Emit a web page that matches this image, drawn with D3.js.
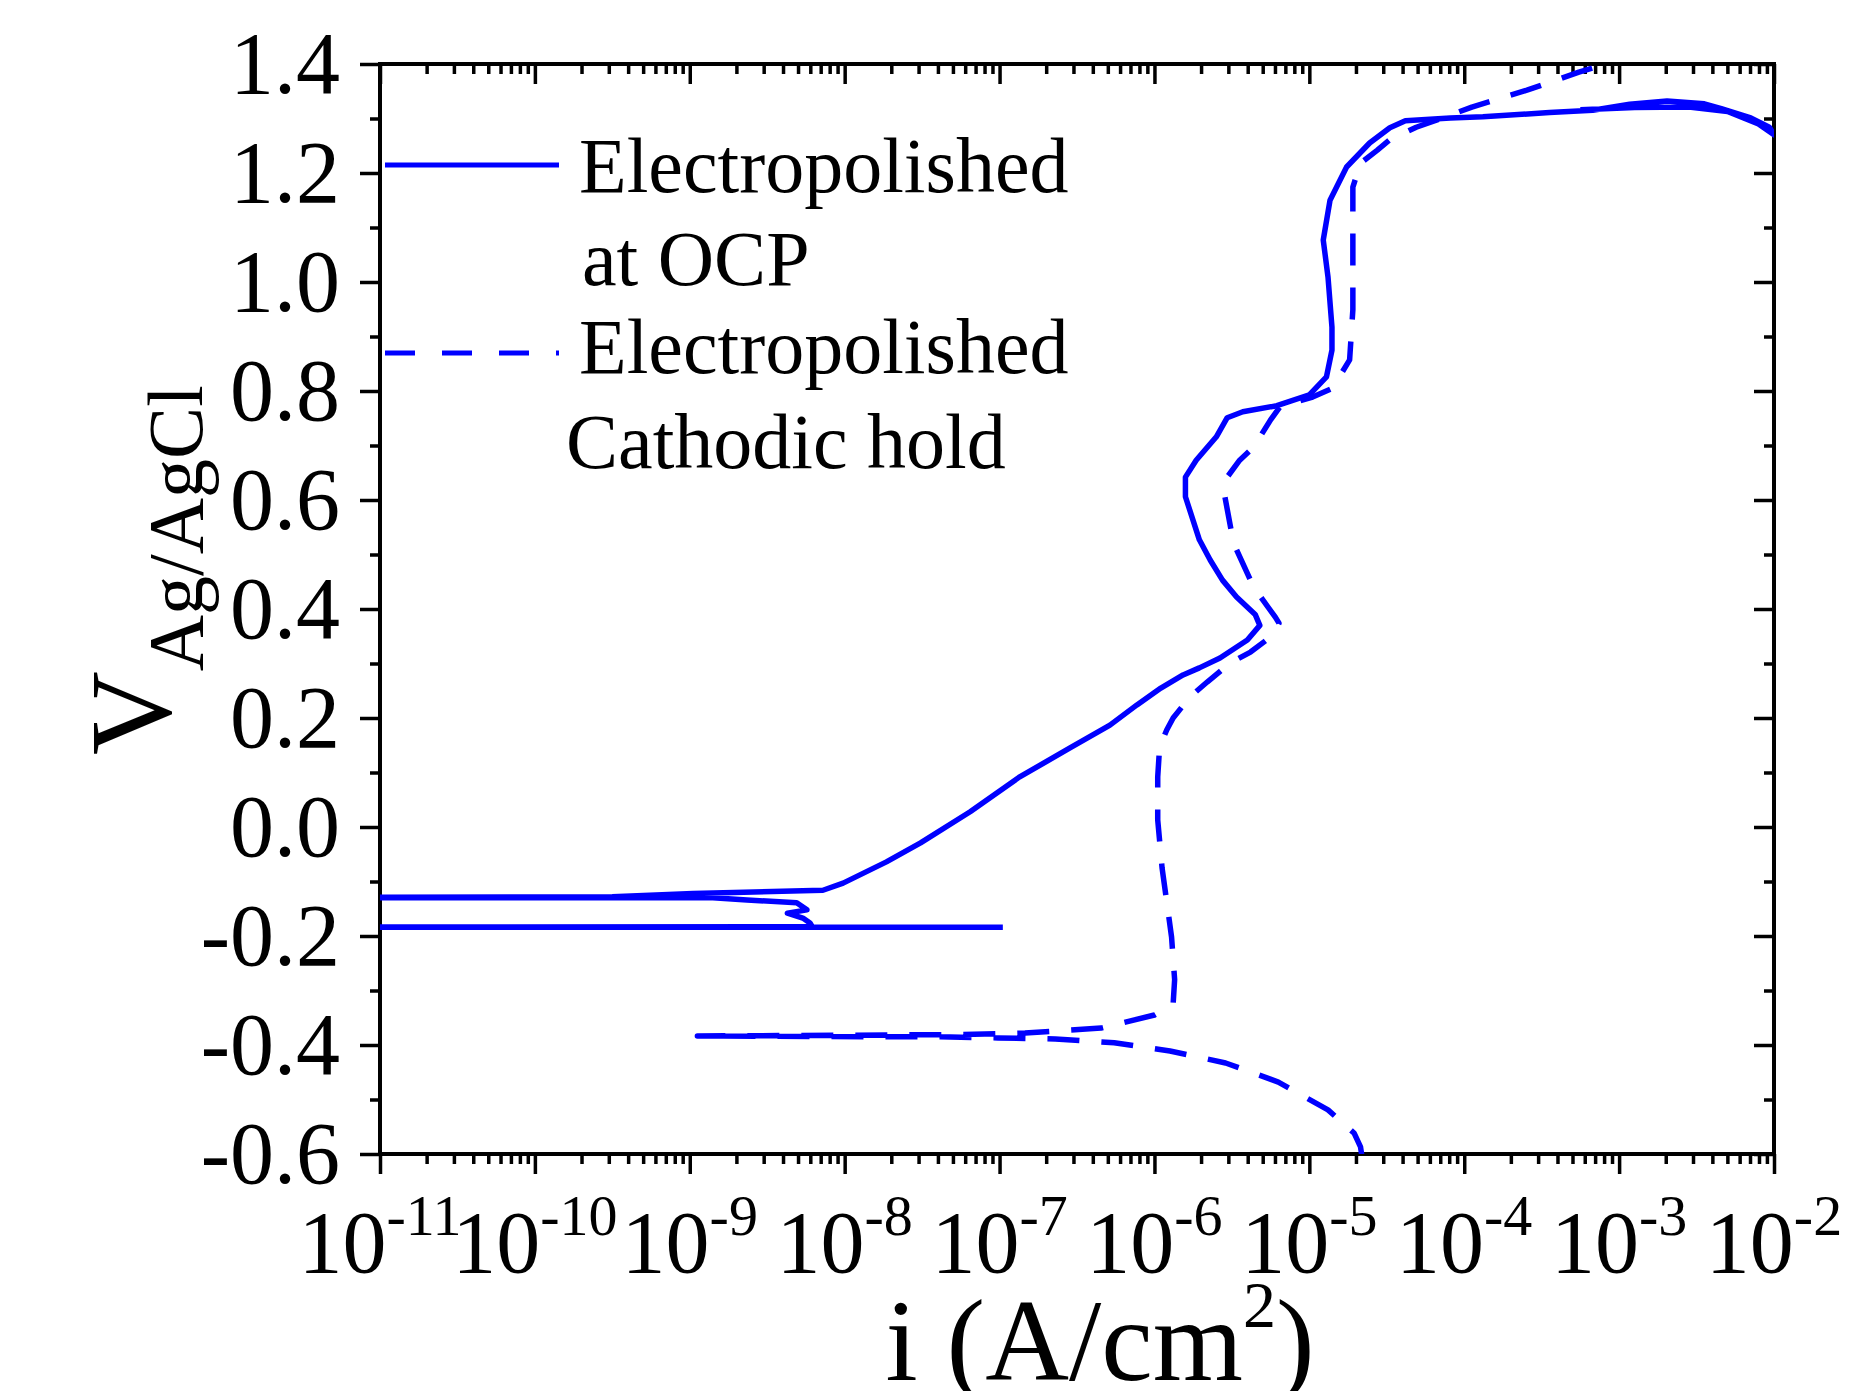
<!DOCTYPE html>
<html>
<head>
<meta charset="utf-8">
<script src="https://cdn.jsdelivr.net/npm/d3@7"></script>
<style>
  body { margin: 0; background: #fff; }
  svg { display: block; }
</style>
</head>
<body>
<div id="chart"></div>
<script>
// Electropolished at OCP (solid) - current density A/cm2, potential V vs Ag/AgCl
const ocpCurrent = [
  1.05e-7, 1e-13, 6.17e-9, 5.97e-9, 5.37e-9, 4.27e-9, 5.71e-9, 4.90e-9, 2.34e-9, 1.41e-9,
  1e-13, 3.16e-10, 1.05e-9, 7.24e-9, 9.77e-9, 1.86e-8, 3.09e-8, 6.46e-8, 1.35e-7, 2.85e-7,
  5.16e-7, 7.71e-7, 1.10e-6, 1.53e-6, 1.95e-6, 2.65e-6, 3.98e-6, 4.79e-6, 4.47e-6, 3.39e-6,
  2.75e-6, 2.29e-6, 1.95e-6, 1.585e-6, 1.585e-6, 1.86e-6, 2.51e-6, 2.95e-6, 3.72e-6, 6.17e-6,
  1.0e-5, 1.29e-5, 1.40e-5, 1.40e-5, 1.32e-5, 1.23e-5, 1.36e-5, 1.74e-5, 2.45e-5, 3.31e-5,
  4.17e-5, 8.13e-5, 1.32e-4, 3.55e-4, 6.76e-4, 1.17e-3, 2.04e-3, 3.55e-3, 4.57e-3, 7.08e-3,
  9.33e-3, 1.0e-2, 7.94e-3, 5.01e-3, 2.82e-3, 1.26e-3, 5.62e-4
];
const ocpPotential = [
  -0.184, -0.184, -0.183, -0.176, -0.167, -0.158, -0.152, -0.139, -0.134, -0.130,
  -0.130, -0.128, -0.122, -0.116, -0.103, -0.064, -0.029, 0.028, 0.092, 0.145,
  0.187, 0.224, 0.255, 0.279, 0.292, 0.310, 0.343, 0.370, 0.390, 0.422,
  0.453, 0.490, 0.527, 0.606, 0.642, 0.673, 0.716, 0.751, 0.762, 0.773,
  0.793, 0.826, 0.875, 0.917, 1.009, 1.077, 1.150, 1.211, 1.255, 1.283,
  1.296, 1.301, 1.303, 1.311, 1.315, 1.326, 1.332, 1.327, 1.318, 1.301,
  1.284, 1.270, 1.290, 1.313, 1.321, 1.320, 1.316
];

// Electropolished, cathodic hold (dashed)
const holdCurrent = [
  2.2e-5, 2.14e-5, 1.95e-5, 1.32e-5, 6.31e-6, 2.88e-6, 1.26e-6, 5.50e-7, 2.29e-7, 9.77e-8,
  4.12e-8, 1.86e-8, 1.12e-9, 1.0e-8, 5.01e-8, 1.46e-7, 4.52e-7, 1.0e-6, 1.32e-6, 1.35e-6,
  1.29e-6, 1.12e-6, 1.05e-6, 1.05e-6, 1.08e-6, 1.20e-6, 1.32e-6, 1.70e-6, 2.19e-6, 3.09e-6,
  4.17e-6, 5.82e-6, 6.37e-6, 6.03e-6, 4.37e-6, 3.24e-6, 2.85e-6, 2.95e-6, 3.55e-6, 4.37e-6,
  5.62e-6, 6.46e-6, 1.05e-5, 1.41e-5, 1.82e-5, 1.91e-5, 1.91e-5, 1.91e-5, 2.14e-5, 2.75e-5,
  3.31e-5, 4.90e-5, 6.61e-5, 1.12e-4, 2.54e-4, 5.50e-4, 8.13e-4, 1.0e-3
];
const holdPotential = [
  -0.610, -0.587, -0.562, -0.519, -0.468, -0.433, -0.411, -0.396, -0.389, -0.387,
  -0.385, -0.385, -0.3835, -0.382, -0.381, -0.378, -0.369, -0.345, -0.325, -0.28,
  -0.202, -0.075, 0.013, 0.092, 0.147, 0.178, 0.200, 0.239, 0.266, 0.301,
  0.321, 0.352, 0.374, 0.385, 0.440, 0.521, 0.606, 0.642, 0.673, 0.697,
  0.747, 0.771, 0.789, 0.805, 0.857, 0.949, 1.071, 1.174, 1.218, 1.242,
  1.261, 1.284, 1.297, 1.321, 1.352, 1.385, 1.400, 1.410
];

const yTickValues = [-0.6, -0.4, -0.2, 0.0, 0.2, 0.4, 0.6, 0.8, 1.0, 1.2, 1.4];
const xDecades = [-11, -10, -9, -8, -7, -6, -5, -4, -3, -2];
const legendLines = [["Electropolished", "at OCP"], ["Electropolished", "Cathodic hold"]];

const width = 1875;
const height = 1391;
const plot = { left: 380, right: 1774, top: 64, bottom: 1154 };
const blue = '#0000ff';
const serif = '"Liberation Serif", "Times New Roman", serif';

const x = d3.scaleLog()
  .domain([1e-11, 1e-2])
  .range([plot.left, plot.right]);

const y = d3.scaleLinear()
  .domain([-0.6, 1.4])
  .range([plot.bottom, plot.top]);

const svg = d3.select('#chart')
  .append('svg')
  .attr('width', width)
  .attr('height', height)
  .style('font-family', serif);

svg.append('defs').append('clipPath')
  .attr('id', 'plot-clip')
  .append('rect')
  .attr('x', plot.left)
  .attr('y', plot.top)
  .attr('width', plot.right - plot.left)
  .attr('height', plot.bottom - plot.top);

// tick positions
const majorX = xDecades.map(d => Math.pow(10, d));
const minorX = [];
xDecades.slice(0, -1).forEach(d => {
  for (let m = 2; m <= 9; m++) minorX.push(m * Math.pow(10, d));
});
const minorY = d3.range(-0.5, 1.4, 0.2);

function styleAxis(g) {
  g.select('.domain').remove();
  g.selectAll('line').attr('stroke', '#000').attr('stroke-width', 3.5);
}

// bottom (outward)
svg.append('g').attr('transform', `translate(0,${plot.bottom})`)
  .call(d3.axisBottom(x).tickValues(majorX).tickSize(20).tickFormat(''))
  .call(styleAxis);
svg.append('g').attr('transform', `translate(0,${plot.bottom})`)
  .call(d3.axisBottom(x).tickValues(minorX).tickSize(10).tickFormat(''))
  .call(styleAxis);
// top (inward)
svg.append('g').attr('transform', `translate(0,${plot.top})`)
  .call(d3.axisTop(x).tickValues(majorX).tickSize(-20).tickFormat(''))
  .call(styleAxis);
svg.append('g').attr('transform', `translate(0,${plot.top})`)
  .call(d3.axisTop(x).tickValues(minorX).tickSize(-10).tickFormat(''))
  .call(styleAxis);
// left (outward)
svg.append('g').attr('transform', `translate(${plot.left},0)`)
  .call(d3.axisLeft(y).tickValues(yTickValues).tickSize(20).tickFormat(''))
  .call(styleAxis);
svg.append('g').attr('transform', `translate(${plot.left},0)`)
  .call(d3.axisLeft(y).tickValues(minorY).tickSize(10).tickFormat(''))
  .call(styleAxis);
// right (inward)
svg.append('g').attr('transform', `translate(${plot.right},0)`)
  .call(d3.axisRight(y).tickValues(yTickValues).tickSize(-20).tickFormat(''))
  .call(styleAxis);
svg.append('g').attr('transform', `translate(${plot.right},0)`)
  .call(d3.axisRight(y).tickValues(minorY).tickSize(-10).tickFormat(''))
  .call(styleAxis);

// frame
svg.append('rect')
  .attr('x', plot.left)
  .attr('y', plot.top)
  .attr('width', plot.right - plot.left)
  .attr('height', plot.bottom - plot.top)
  .attr('fill', 'none')
  .attr('stroke', '#000')
  .attr('stroke-width', 4);

// y tick labels
svg.append('g').selectAll('text')
  .data(yTickValues)
  .join('text')
  .attr('x', 340)
  .attr('y', d => y(d) + 29)
  .attr('text-anchor', 'end')
  .attr('font-size', 88)
  .text(d => d3.format('.1f')(d).replace('−', '-'));

// x tick labels 10^n
const xLabels = svg.append('g').selectAll('text')
  .data(xDecades)
  .join('text')
  .attr('x', d => x(Math.pow(10, d)))
  .attr('y', 1272)
  .attr('text-anchor', 'middle')
  .attr('font-size', 88);
xLabels.append('tspan').text('10');
xLabels.append('tspan')
  .attr('dy', -37)
  .attr('font-size', 58)
  .text(d => '-' + Math.abs(d));

// x title
const xTitle = svg.append('text')
  .attr('x', 1100)
  .attr('y', 1380)
  .attr('text-anchor', 'middle')
  .attr('font-size', 116);
xTitle.append('tspan').text('i (A/cm');
xTitle.append('tspan').attr('dy', -53).attr('font-size', 66).text('2');
xTitle.append('tspan').attr('dy', 53).text(')');

// y title
const yTitle = svg.append('text')
  .attr('transform', 'translate(170,755) rotate(-90)')
  .attr('font-size', 116);
yTitle.append('tspan').text('V');
yTitle.append('tspan').attr('dy', 32).attr('font-size', 78).text('Ag/AgCl');

// curves
const line = d3.line()
  .x(d => x(d[0]))
  .y(d => y(d[1]));

const curves = svg.append('g').attr('clip-path', 'url(#plot-clip)');

curves.append('path')
  .datum(d3.zip(ocpCurrent, ocpPotential))
  .attr('d', line)
  .attr('fill', 'none')
  .attr('stroke', blue)
  .attr('stroke-width', 5.5)
  .attr('stroke-linejoin', 'round');

curves.append('path')
  .datum(d3.zip(holdCurrent, holdPotential))
  .attr('d', line)
  .attr('fill', 'none')
  .attr('stroke', blue)
  .attr('stroke-width', 5.5)
  .attr('stroke-linejoin', 'round')
  .attr('stroke-dasharray', '32,22');

// legend
const legend = svg.append('g');
const legendRows = [
  { y: 165, dash: null, text: [[579, 192], [582, 285]] },
  { y: 353, dash: '30,27', text: [[579, 373], [566, 468]] }
];
legendRows.forEach((row, i) => {
  legend.append('line')
    .attr('x1', 385).attr('x2', 559)
    .attr('y1', row.y).attr('y2', row.y)
    .attr('stroke', blue)
    .attr('stroke-width', 5)
    .attr('stroke-dasharray', row.dash);
  legendLines[i].forEach((label, j) => {
    legend.append('text')
      .attr('x', row.text[j][0])
      .attr('y', row.text[j][1])
      .attr('font-size', 78)
      .text(label);
  });
});
</script>
</body>
</html>
